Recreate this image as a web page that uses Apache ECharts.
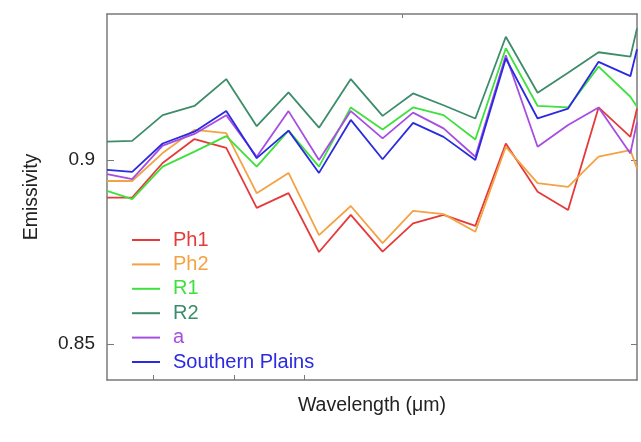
<!DOCTYPE html>
<html>
<head>
<meta charset="utf-8">
<script src="https://cdn.jsdelivr.net/npm/echarts@6/dist/echarts.min.js"></script>
<style>
  html, body { margin: 0; padding: 0; background: #ffffff; }
  #chart { width: 641px; height: 442px; }
</style>
</head>
<body>
<div id="chart"></div>
<script>
const wavelengths = [8.00, 8.19, 8.42, 8.66, 8.90, 9.13, 9.37, 9.60, 9.84, 10.08,
  10.31, 10.54, 10.78, 11.01, 11.25, 11.48, 11.71, 11.95, 12.00];

const ph1 = [0.8898, 0.8898, 0.8992, 0.9057, 0.9033, 0.8870, 0.8910, 0.8750, 0.8851, 0.8751,
  0.8828, 0.8851, 0.8821, 0.9045, 0.8914, 0.8864, 0.9143, 0.9063, 0.9140];
const ph2 = [0.8943, 0.8943, 0.9019, 0.9082, 0.9073, 0.8910, 0.8965, 0.8796, 0.8875, 0.8774,
  0.8862, 0.8853, 0.8805, 0.9036, 0.8937, 0.8927, 0.9009, 0.9027, 0.8977];
const r1 = [0.8916, 0.8894, 0.8982, 0.9023, 0.9065, 0.8982, 0.9080, 0.8982, 0.9143, 0.9083,
  0.9143, 0.9122, 0.9056, 0.9304, 0.9147, 0.9143, 0.9254, 0.9172, 0.9145];
const r2 = [0.9050, 0.9052, 0.9122, 0.9147, 0.9220, 0.9092, 0.9184, 0.9088, 0.9220, 0.9120,
  0.9181, 0.9149, 0.9113, 0.9335, 0.9183, 0.9237, 0.9293, 0.9281, 0.9358];
const aSeries = [0.8962, 0.8948, 0.9039, 0.9071, 0.9122, 0.9009, 0.9133, 0.9000, 0.9133, 0.9059,
  0.9129, 0.9086, 0.9009, 0.9285, 0.9036, 0.9095, 0.9143, 0.9018, 0.9103];
const southernPlains = [0.8973, 0.8968, 0.9045, 0.9077, 0.9133, 0.9005, 0.9080, 0.8965, 0.9109, 0.9002,
  0.9101, 0.9063, 0.9000, 0.9276, 0.9113, 0.9140, 0.9267, 0.9228, 0.9301];

const seriesNames = ['Ph1', 'Ph2', 'R1', 'R2', 'a', 'Southern Plains'];
const seriesColors = ['#e53a3a', '#f3a343', '#3ee03e', '#3d8c6a', '#a64de3', '#2a2ae0'];
const seriesValues = [ph1, ph2, r1, r2, aSeries, southernPlains];

const yTicks = [0.85, 0.9];
const xTicksBottom = [8.35, 8.96, 9.49];
const xTicksTop = [10.23];

const font = '"Liberation Sans", Arial, sans-serif';
const axisGray = '#7a7a7a';

const chart = echarts.init(document.getElementById('chart'));

const series = seriesNames.map((name, i) => ({
  name,
  type: 'line',
  symbol: 'none',
  data: wavelengths.map((w, j) => [w, seriesValues[i][j]]),
  lineStyle: { color: seriesColors[i], width: 1.8 },
  itemStyle: { color: seriesColors[i] }
}));

const option = {
  animation: false,
  grid: { left: 107, right: 4, top: 14, bottom: 62 },
  legend: {
    orient: 'vertical',
    left: 132,
    top: 230,
    padding: 0,
    icon: 'rect',
    itemWidth: 28,
    itemHeight: 2,
    itemGap: 4.4,
    data: seriesNames.map((n, i) => ({
      name: n,
      textStyle: { color: seriesColors[i] }
    })),
    textStyle: { fontFamily: font, fontSize: 20, lineHeight: 20, padding: [0, 0, 0, 8] }
  },
  xAxis: [
    {
      type: 'value',
      position: 'bottom',
      min: 8,
      max: 12,
      name: 'Wavelength (μm)',
      nameLocation: 'middle',
      nameGap: 16,
      nameTextStyle: { fontFamily: font, fontSize: 19.5, color: '#222' },
      axisLine: { show: true, lineStyle: { color: axisGray, width: 1.5 } },
      axisTick: { show: true, inside: true, length: 5, customValues: xTicksBottom, lineStyle: { color: axisGray } },
      axisLabel: { show: false },
      splitLine: { show: false }
    },
    {
      type: 'value',
      position: 'top',
      min: 8,
      max: 12,
      axisLine: { show: true, lineStyle: { color: axisGray, width: 1.5 } },
      axisTick: { show: true, inside: true, length: 4, customValues: xTicksTop, lineStyle: { color: axisGray } },
      axisLabel: { show: false },
      splitLine: { show: false }
    }
  ],
  yAxis: [
    {
      type: 'value',
      position: 'left',
      min: 0.8402,
      max: 0.9397,
      name: 'Emissivity',
      nameLocation: 'middle',
      nameRotate: 90,
      nameGap: 65,
      nameTextStyle: { fontFamily: font, fontSize: 19.5, color: '#222' },
      axisLine: { show: true, lineStyle: { color: axisGray, width: 1.5 } },
      axisTick: { show: true, inside: true, length: 7, customValues: yTicks, lineStyle: { color: axisGray } },
      axisLabel: { customValues: yTicks, margin: 12, fontFamily: font, fontSize: 19, color: '#222' },
      splitLine: { show: false }
    },
    {
      type: 'value',
      position: 'right',
      min: 0.8402,
      max: 0.9397,
      axisLine: { show: true, lineStyle: { color: axisGray, width: 1.5 } },
      axisTick: { show: true, inside: true, length: 6, customValues: yTicks, lineStyle: { color: axisGray } },
      axisLabel: { show: false },
      splitLine: { show: false }
    }
  ],
  series
};

chart.setOption(option);
</script>
</body>
</html>
